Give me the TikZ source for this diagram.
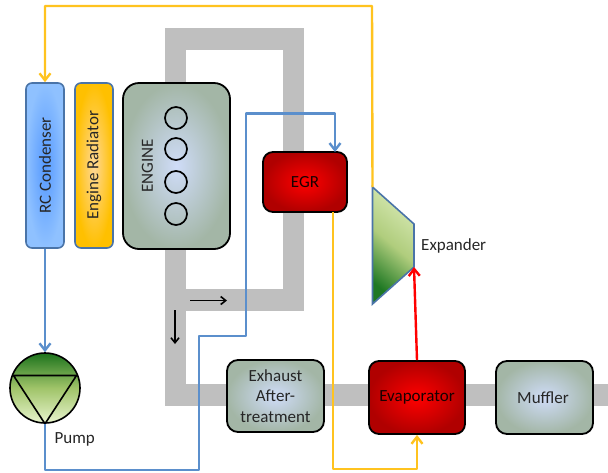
\documentclass[tikz,border=0pt]{standalone}
\usepackage{fontspec}
\setmainfont{Carlito}
\usetikzlibrary{arrows.meta}
\definecolor{pipegray}{HTML}{BFBFBF}
\definecolor{flowblue}{HTML}{5B8FCC}
\definecolor{flowyellow}{HTML}{FFC31F}
\definecolor{edgeblue}{HTML}{4A74A8}
\definecolor{txt}{HTML}{262626}
\definecolor{greenbase}{HTML}{A3B6A6}
\definecolor{boxcentre}{HTML}{CFDCF8}
\definecolor{condin}{HTML}{5599FF}
\definecolor{condout}{HTML}{8FC1FF}
\definecolor{radin}{HTML}{FFD896}
\definecolor{radout}{HTML}{FFC000}
\definecolor{reddark}{HTML}{B00000}
\definecolor{gdark}{HTML}{1C731C}
\definecolor{gmid}{HTML}{A0C469}
\definecolor{glight}{HTML}{E8F4CD}
\definecolor{exdark}{HTML}{1E7823}
\definecolor{exmid}{HTML}{B0CD7D}
\definecolor{exlight}{HTML}{D6E8B2}
\tikzset{
  x=1pt,y=-1pt,
  every node/.style={font=\fontsize{17}{20.5}\selectfont,text=txt,inner sep=0pt,align=center},
  pipe/.style={pipegray,line width=21.5pt,line cap=butt,line join=miter},
  barb/.style={-{Straight Barb[length=7pt,width=11pt,line width=2.4pt]}},
  blueflow/.style={flowblue,line width=2.4pt,line join=round},
  yellowflow/.style={flowyellow,line width=2.4pt,line join=round},
  redflow/.style={red,line width=2.4pt},
  blackflow/.style={black,line width=1.6pt,-{Straight Barb[length=5pt,width=8pt,line width=1.6pt]}},
  darkbox/.style={draw=black,line width=1.8pt,rounded corners=11pt},
  greenbox/.style={darkbox,outer color=greenbase,inner color=boxcentre},
  redbox/.style={darkbox,rounded corners=10pt,inner color=red,outer color=reddark,text=black!90!red},
  barbox/.style={draw=edgeblue,line width=1.6pt,rounded corners=6pt,minimum width=38pt,minimum height=165pt},
  cyl/.style={circle,draw=black,line width=1.7pt,minimum size=22pt},
}
\begin{document}
\begin{tikzpicture}
\useasboundingbox (0,0) rectangle (608,472);
% exhaust pipes
\coordinate (pa) at (175.5,90);
\coordinate (pb) at (175.5,39);
\coordinate (pc) at (293.5,39);
\coordinate (pd) at (293.5,300);
\coordinate (pe) at (175.5,300);
\coordinate (pf) at (175.5,395);
\coordinate (pg) at (608,395);
\draw[pipe] (pa) -- (pb) -- (pc) -- (pd) -- (pe);
\draw[pipe] (pa) -- (pf) -- (pg);
% components
\node[barbox,inner color=condin,outer color=condout] (cond) at (45,165.5) {\rotatebox{90}{RC Condenser}};
\node[barbox,inner color=radin,outer color=radout] (rad) at (94,165.5) {\rotatebox{90}{Engine Radiator}};
\node[greenbox,rounded corners=16pt,minimum width=107pt,minimum height=166pt] (engine) at (176.5,166) {};
\node (enginetext) at (147.5,166) {\rotatebox{90}{ENGINE}};
\node[cyl] (c1) at (176,118) {};
\node[cyl] (c2) at (176,149) {};
\node[cyl] (c3) at (176,182) {};
\node[cyl] (c4) at (176,214) {};
\node[redbox,minimum width=84pt,minimum height=60pt] (egr) at (305,182) {EGR};
\node[greenbox,minimum width=97pt,minimum height=72pt] (after) at (275.5,396) {Exhaust\\After-\\treatment};
\node[redbox,minimum width=96pt,minimum height=73pt] (evap) at (417,397.5) {Evaporator};
\node[greenbox,minimum width=97pt,minimum height=73pt] (muffler) at (544.5,397.5) {\kern-3pt Muffler};
% expander
\coordinate (exa) at (372.5,187);
\coordinate (exb) at (414,224);
\coordinate (exc) at (414,267);
\coordinate (exd) at (372.5,304);
\draw[edgeblue,line width=1.6pt,line join=miter,top color=exlight,bottom color=exdark,middle color=exmid,shading angle=-40] (exa) -- (exb) -- (exc) -- (exd) -- cycle;
\node[anchor=west] (extext) at (421,246) {Expander};
% pump
\node[circle,draw=black,line width=1.6pt,minimum size=70pt,top color=gdark,bottom color=glight,middle color=gmid] (pump) at (45,388) {};
\coordinate (ta) at (13.5,375.5);
\coordinate (tb) at (76.5,375.5);
\draw[black,line width=1.6pt,line join=round] (ta) -- (tb) -- (pump.south) -- cycle;
\node[anchor=west] (pumptext) at (54.5,439.5) {Pump};
% blue circuit
\coordinate (b1) at (45,470);
\coordinate (b2) at (199,470);
\coordinate (b3) at (199,336);
\coordinate (b4) at (246,336);
\coordinate (b5) at (246,113.5);
\coordinate (b6) at (335,113.5);
\coordinate (b7) at (335,152);
\draw[blueflow,barb] (cond.south) -- (pump.north);
\draw[blueflow,barb] (pump.south) -- (b1) -- (b2) -- (b3) -- (b4) -- (b5) -- (b6) -- (b7);
% yellow circuit
\coordinate (y1) at (372,6);
\coordinate (y2) at (45,6);
\coordinate (y3) at (333,212);
\coordinate (y4) at (333,469);
\coordinate (y5) at (417,469);
\draw[yellowflow,barb] (exa) -- (y1) -- (y2) -- (cond.north);
\draw[yellowflow,barb] (y3) -- (y4) -- (y5) -- (evap.south);
% red
\draw[redflow,barb] (evap.north) -- (exc);
% black arrows
\coordinate (k1) at (190,300.5);
\coordinate (k2) at (227,300.5);
\coordinate (k3) at (175,310);
\coordinate (k4) at (175,344);
\draw[blackflow] (k1) -- (k2);
\draw[blackflow] (k3) -- (k4);
\end{tikzpicture}
\end{document}
